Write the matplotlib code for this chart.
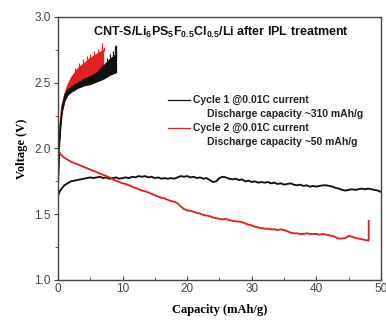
import matplotlib
matplotlib.use("Agg")
import numpy as np
import matplotlib.pyplot as plt
from matplotlib.ticker import MultipleLocator

# Cycle 1 discharge (black): capacity grid and voltage
c1_dis_x = [0.0, 0.25] + list(np.arange(0.5, 50.01, 0.5))
c1_dis_v = [1.64, 1.67,
            1.69, 1.72, 1.735, 1.75, 1.755, 1.76, 1.765, 1.77, 1.775, 1.78,
            1.775, 1.78, 1.785, 1.775, 1.78, 1.77, 1.775, 1.78, 1.77, 1.775,
            1.78, 1.775, 1.785, 1.78, 1.79, 1.785, 1.79, 1.78, 1.785, 1.775,
            1.78, 1.77, 1.775, 1.77, 1.775, 1.77, 1.78, 1.79, 1.785, 1.79,
            1.78, 1.785, 1.775, 1.78, 1.77, 1.775, 1.76, 1.745, 1.75, 1.775,
            1.785, 1.78, 1.77, 1.765, 1.77, 1.76, 1.765, 1.75, 1.755, 1.745,
            1.75, 1.74, 1.745, 1.74, 1.745, 1.735, 1.74, 1.73, 1.735, 1.725,
            1.73, 1.735, 1.725, 1.72, 1.725, 1.715, 1.72, 1.71, 1.715, 1.71,
            1.715, 1.72, 1.72, 1.715, 1.71, 1.70, 1.695, 1.685, 1.68, 1.685,
            1.69, 1.685, 1.69, 1.695, 1.69, 1.695, 1.69, 1.685, 1.68, 1.67]

# Cycle 2 discharge (red), ending with the relaxation step
c2_dis_x = [0.0, 0.25] + list(np.arange(0.5, 48.01, 0.5)) + [48.1, 48.1]
c2_dis_v = [2.01, 1.97,
            1.95, 1.93, 1.915, 1.90, 1.89, 1.88, 1.87, 1.86, 1.85, 1.84,
            1.83, 1.82, 1.81, 1.80, 1.79, 1.78, 1.765, 1.755, 1.745, 1.735,
            1.73, 1.72, 1.71, 1.70, 1.69, 1.68, 1.675, 1.665, 1.655, 1.645,
            1.635, 1.625, 1.62, 1.61, 1.60, 1.595, 1.585, 1.56, 1.54, 1.53,
            1.525, 1.52, 1.51, 1.505, 1.495, 1.49, 1.485, 1.475, 1.47, 1.465,
            1.46, 1.465, 1.455, 1.45, 1.445, 1.445, 1.44, 1.43, 1.42, 1.415,
            1.405, 1.40, 1.395, 1.39, 1.39, 1.385, 1.385, 1.38, 1.385, 1.38,
            1.37, 1.36, 1.355, 1.355, 1.35, 1.35, 1.355, 1.35, 1.35, 1.35,
            1.345, 1.35, 1.345, 1.34, 1.335, 1.325, 1.315, 1.315, 1.32, 1.335,
            1.33, 1.32, 1.315, 1.31, 1.305, 1.30,
            1.30, 1.45]

# Cycle 1 charge: envelope of the noisy trace plus voltage spikes
c1_chg_x = [0.0, 0.1, 0.3, 0.6, 1.0, 1.5, 2.0, 3.0, 4.0, 5.0, 6.0, 7.0, 8.0, 9.0]
c1_chg_lo = [1.72, 1.95, 2.12, 2.28, 2.37, 2.41, 2.43, 2.46, 2.48, 2.49, 2.51, 2.53,
             2.56, 2.58]
c1_chg_hi = [1.74, 2.00, 2.18, 2.32, 2.41, 2.45, 2.47, 2.50, 2.53, 2.55, 2.58, 2.63,
             2.68, 2.72]
c1_spike_x = [7.6, 8.1, 8.5, 8.8, 9.05]
c1_spike_base = [2.60, 2.62, 2.64, 2.66, 2.68]
c1_spike_top = [2.69, 2.72, 2.74, 2.78, 2.79]

# Cycle 2 charge
c2_chg_x = [0.0, 0.05, 0.2, 0.5, 1.0, 1.5, 2.0, 3.0, 4.0, 5.0, 6.0, 7.0]
c2_chg_lo = [1.73, 2.00, 2.12, 2.26, 2.36, 2.41, 2.44, 2.48, 2.50, 2.53, 2.56, 2.60]
c2_chg_hi = [1.75, 2.02, 2.16, 2.32, 2.42, 2.49, 2.54, 2.61, 2.65, 2.69, 2.72, 2.75]
c2_spike_x = [2.6, 3.2, 3.9, 4.5, 5.0, 5.6, 6.2, 6.6, 6.9, 7.1]
c2_spike_base = [2.55, 2.58, 2.62, 2.65, 2.67, 2.69, 2.70, 2.72, 2.73, 2.74]
c2_spike_top = [2.61, 2.65, 2.68, 2.70, 2.72, 2.74, 2.76, 2.74, 2.80, 2.77]

title = "CNT-S/Li$_6$PS$_5$F$_{0.5}$Cl$_{0.5}$/Li after IPL treatment"
legend_main = ["Cycle 1 @0.01C current", "Cycle 2 @0.01C current"]
legend_sub = ["Discharge capacity ~310 mAh/g", "Discharge capacity ~50 mAh/g"]

BLACK = "#111111"
RED = "#e02222"

plt.rcParams["font.family"] = ["Liberation Sans", "DejaVu Sans"]
plt.rcParams["mathtext.fontset"] = "custom"
plt.rcParams["mathtext.rm"] = "Liberation Sans:bold"
plt.rcParams["mathtext.it"] = "Liberation Sans:bold"
plt.rcParams["mathtext.bf"] = "Liberation Sans:bold"

fig = plt.figure(figsize=(3.86, 3.20), dpi=100)
ax = fig.add_axes([0.150, 0.125, 0.837, 0.822])

# charge branches
ax.fill_between(c2_chg_x, c2_chg_lo, c2_chg_hi, color=RED, lw=0.8)
ax.vlines(c2_spike_x, c2_spike_base, c2_spike_top, color=RED, lw=0.9)
ax.fill_between(c1_chg_x, c1_chg_lo, c1_chg_hi, color=BLACK, lw=0.8)
ax.vlines(c1_spike_x, c1_spike_base, c1_spike_top, color=BLACK, lw=0.9)

# discharge branches
ax.plot(c1_dis_x, c1_dis_v, color=BLACK, lw=1.35)
ax.plot(c2_dis_x, c2_dis_v, color=RED, lw=1.35)

ax.set_xlim(0, 50)
ax.set_ylim(1.0, 3.0)
ax.xaxis.set_major_locator(MultipleLocator(10))
ax.xaxis.set_minor_locator(MultipleLocator(5))
ax.yaxis.set_major_locator(MultipleLocator(0.5))
ax.yaxis.set_minor_locator(MultipleLocator(0.25))
ax.tick_params(axis="x", which="both", direction="in", labelsize=8.5,
               labelcolor="#444444", color="#444444", pad=2)
ax.tick_params(axis="x", which="major", length=3)
ax.tick_params(axis="x", which="minor", length=2)
ax.tick_params(axis="y", which="both", direction="out", labelsize=8.5,
               labelcolor="#444444", color="#444444", pad=2)
ax.tick_params(axis="y", which="major", length=3)
ax.tick_params(axis="y", which="minor", length=2)
ax.yaxis.set_major_formatter(plt.FuncFormatter(lambda v, p: f"{v:.1f}"))
for s in ax.spines.values():
    s.set_color("#444444")
    s.set_linewidth(1.0)

ax.set_xlabel("Capacity (mAh/g)", family=["Liberation Serif"], fontweight="bold",
              fontsize=9, labelpad=7)
ax.set_ylabel("Voltage (V)", family=["Liberation Serif"], fontweight="bold",
              fontsize=9, labelpad=5)

ax.text(0.505, 0.943, title, transform=ax.transAxes, ha="center", va="center",
        fontsize=9, fontweight="bold", color="#111111")

# legend drawn as line samples with two-line captions
handle_y = [0.684, 0.578]
sub_y = [0.631, 0.525]
for col, hy, sy, main, sub in zip([BLACK, RED], handle_y, sub_y, legend_main, legend_sub):
    ax.plot([0.341, 0.409], [hy, hy], color=col, lw=0.9, transform=ax.transAxes)
    ax.text(0.418, hy, main, transform=ax.transAxes, ha="left", va="center",
            fontsize=7.5, fontweight="bold", color="#222222")
    ax.text(0.461, sy, sub, transform=ax.transAxes, ha="left", va="center",
            fontsize=7.5, fontweight="bold", color="#222222")

fig.savefig("out.png", dpi=100)
